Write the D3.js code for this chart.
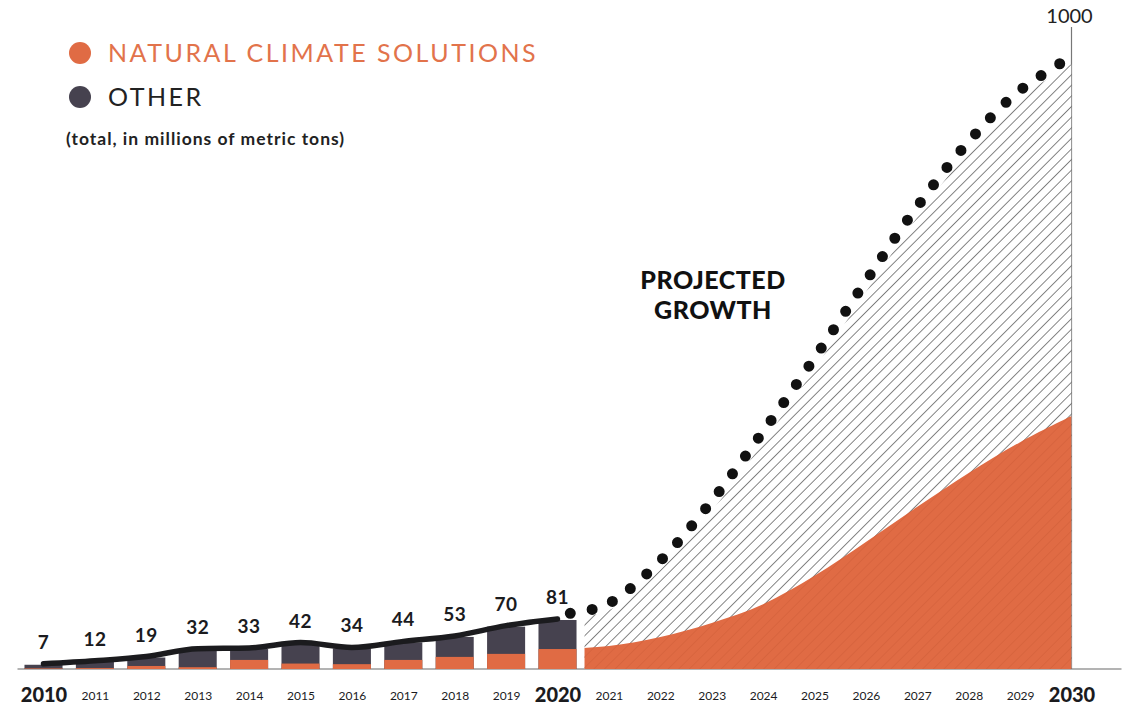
<!DOCTYPE html>
<html>
<head>
<meta charset="utf-8">
<script src="https://cdn.jsdelivr.net/npm/d3@7"></script>
<style>
  body { margin: 0; background: #fff; }
  svg { display: block; font-family: "Lato", "Noto Sans", sans-serif; }
</style>
</head>
<body>
<div id="chart"></div>
<script>
// historic years, 2010-2020
const years = [2010, 2011, 2012, 2013, 2014, 2015, 2016, 2017, 2018, 2019, 2020];
const totals = [7, 12, 19, 32, 33, 42, 34, 44, 53, 70, 81];
const natural = [1, 1.5, 5, 3, 15, 9, 8, 15, 20, 25, 33];

// projection, 2020-2030
const projYears = [2020, 2021, 2022, 2023, 2024, 2025, 2026, 2027, 2028, 2029, 2030];
const projTotal = [81, 97, 164, 261, 375, 496, 623, 747, 856, 943, 1000];
const projNatural = [33, 38, 53, 76, 107, 154, 210, 268, 324, 375, 418];

const allYears = d3.range(2010, 2031);
const bigYears = [2010, 2020, 2030];

const width = 1124, height = 706;
const orange = "#E06B44";
const dark = "#46424F";

const svg = d3.select("#chart")
    .append("svg")
    .attr("width", width)
    .attr("height", height);

// scales
const x = d3.scalePoint()
    .domain(allYears)
    .range([43.5, 1071.5]);

const y = d3.scaleLinear()
    .domain([0, 1000])
    .range([669, 64]);

const barW = x.step() * 0.74;

// patterns
const defs = svg.append("defs");
const hatch = defs.append("pattern")
    .attr("id", "hatch")
    .attr("patternUnits", "userSpaceOnUse")
    .attr("width", 7.5)
    .attr("height", 10)
    .attr("patternTransform", "rotate(45)");
hatch.append("rect").attr("width", 7.5).attr("height", 10).attr("fill", "#fff");
hatch.append("line")
    .attr("x1", 0).attr("y1", 0).attr("x2", 0).attr("y2", 10)
    .attr("stroke", "#444").attr("stroke-width", 1.3);

const hatchOrange = defs.append("pattern")
    .attr("id", "hatchOrange")
    .attr("patternUnits", "userSpaceOnUse")
    .attr("width", 7.5)
    .attr("height", 10)
    .attr("patternTransform", "rotate(45)");
hatchOrange.append("rect").attr("width", 7.5).attr("height", 10).attr("fill", orange);
hatchOrange.append("line")
    .attr("x1", 0).attr("y1", 0).attr("x2", 0).attr("y2", 10)
    .attr("stroke", "#CF5E39").attr("stroke-width", 1);

// clip the projection so it starts right of the 2020 bar
defs.append("clipPath")
    .attr("id", "projClip")
    .append("rect")
    .attr("x", x(2020) + barW / 2 + 8)
    .attr("y", 0)
    .attr("width", x(2030) - (x(2020) + barW / 2 + 8))
    .attr("height", y(0));

// baseline + 2030 vertical line
svg.append("line")
    .attr("x1", x(2010) - 26).attr("x2", x(2030) + 50)
    .attr("y1", y(0)).attr("y2", y(0))
    .attr("stroke", "#9a9a9a").attr("stroke-width", 1.5);

svg.append("line")
    .attr("x1", x(2030)).attr("x2", x(2030))
    .attr("y1", y(0)).attr("y2", y(1000) - 37)
    .attr("stroke", "#777").attr("stroke-width", 1.2);

// projected areas
const projData = projYears.map((yr, i) => ({ year: yr, total: projTotal[i], nat: projNatural[i] }));
const smooth = d3.curveCatmullRom.alpha(0.5);

const proj = svg.append("g").attr("clip-path", "url(#projClip)");

proj.append("path")
    .datum(projData)
    .attr("fill", "url(#hatch)")
    .attr("d", d3.area()
        .x(d => x(d.year))
        .y0(y(0))
        .y1(d => y(d.total))
        .curve(smooth));

proj.append("path")
    .datum(projData)
    .attr("fill", "url(#hatchOrange)")
    .attr("d", d3.area()
        .x(d => x(d.year))
        .y0(y(0))
        .y1(d => y(d.nat))
        .curve(smooth));

// historic stacked bars
const histData = years.map((yr, i) => ({ year: yr, total: totals[i], nat: natural[i] }));

svg.selectAll(".bar-other")
    .data(histData)
    .enter().append("rect")
    .attr("class", "bar-other")
    .attr("x", d => x(d.year) - barW / 2)
    .attr("y", d => y(d.total))
    .attr("width", barW)
    .attr("height", d => y(0) - y(d.total))
    .attr("fill", dark);

svg.selectAll(".bar-nat")
    .data(histData)
    .enter().append("rect")
    .attr("class", "bar-nat")
    .attr("x", d => x(d.year) - barW / 2)
    .attr("y", d => y(d.nat))
    .attr("width", barW)
    .attr("height", d => y(0) - y(d.nat))
    .attr("fill", orange);

// total line
svg.append("path")
    .datum(histData)
    .attr("fill", "none")
    .attr("stroke", "#1b1b1e")
    .attr("stroke-width", 5.5)
    .attr("stroke-linecap", "round")
    .attr("d", d3.line()
        .x(d => x(d.year))
        .y(d => y(d.total) - 1)
        .curve(d3.curveMonotoneX));

// dotted projection line
svg.append("path")
    .datum(projData)
    .attr("fill", "none")
    .attr("stroke", "#111")
    .attr("stroke-width", 11)
    .attr("stroke-linecap", "round")
    .attr("stroke-dasharray", "0 22")
    .attr("stroke-dashoffset", 5)
    .attr("transform", "translate(-4,-5)")
    .attr("d", d3.line()
        .x(d => x(d.year))
        .y(d => y(d.total))
        .curve(smooth));

// value labels
svg.selectAll(".val")
    .data(histData)
    .enter().append("text")
    .attr("class", "val")
    .attr("x", d => x(d.year))
    .attr("y", d => y(d.total) - 16)
    .attr("text-anchor", "middle")
    .style("font-size", "19px")
    .style("font-weight", "bold")
    .style("letter-spacing", "0.5px")
    .style("fill", "#1b1b1e")
    .text(d => d.total);

// 1000 label
svg.append("text")
    .attr("x", x(2030) - 2)
    .attr("y", 23)
    .attr("text-anchor", "middle")
    .style("font-size", "20px")
    .style("fill", "#222")
    .text("1000");

// x axis labels
svg.append("g")
    .attr("transform", `translate(0, ${y(0)})`)
    .call(d3.axisBottom(x).tickSize(0).tickPadding(0))
    .call(g => g.select(".domain").remove())
    .selectAll("text")
    .attr("dy", null)
    .attr("y", d => bigYears.includes(d) ? 33 : 31)
    .style("font-family", "Lato, sans-serif")
    .style("font-size", d => bigYears.includes(d) ? "20px" : "12px")
    .style("font-weight", d => bigYears.includes(d) ? "900" : "normal")
    .style("fill", "#1b1b1e");

// projected growth label
const pg = svg.append("text")
    .attr("x", 713)
    .attr("y", 289)
    .attr("text-anchor", "middle")
    .style("font-size", "25px")
    .style("font-weight", "900")
    .style("letter-spacing", "0.5px")
    .style("fill", "#111");
pg.append("tspan").attr("x", 713).text("PROJECTED");
pg.append("tspan").attr("x", 713).attr("dy", 30).text("GROWTH");

// legend
const legend = [
    { label: "NATURAL CLIMATE SOLUTIONS", color: orange, text: "#E2734B" },
    { label: "OTHER", color: dark, text: "#222" }
];

const lg = svg.append("g");
lg.selectAll("circle")
    .data(legend)
    .enter().append("circle")
    .attr("cx", 80)
    .attr("cy", (d, i) => 53 + i * 44)
    .attr("r", 11)
    .attr("fill", d => d.color);

lg.selectAll("text")
    .data(legend)
    .enter().append("text")
    .attr("x", 108)
    .attr("y", (d, i) => 62 + i * 44)
    .style("font-size", "25px")
    .style("letter-spacing", "2.5px")
    .style("fill", d => d.text)
    .text(d => d.label);

svg.append("text")
    .attr("x", 66)
    .attr("y", 145)
    .style("font-size", "17.5px")
    .style("font-weight", "bold")
    .style("letter-spacing", "1px")
    .style("fill", "#222")
    .text("(total, in millions of metric tons)");
</script>
</body>
</html>
